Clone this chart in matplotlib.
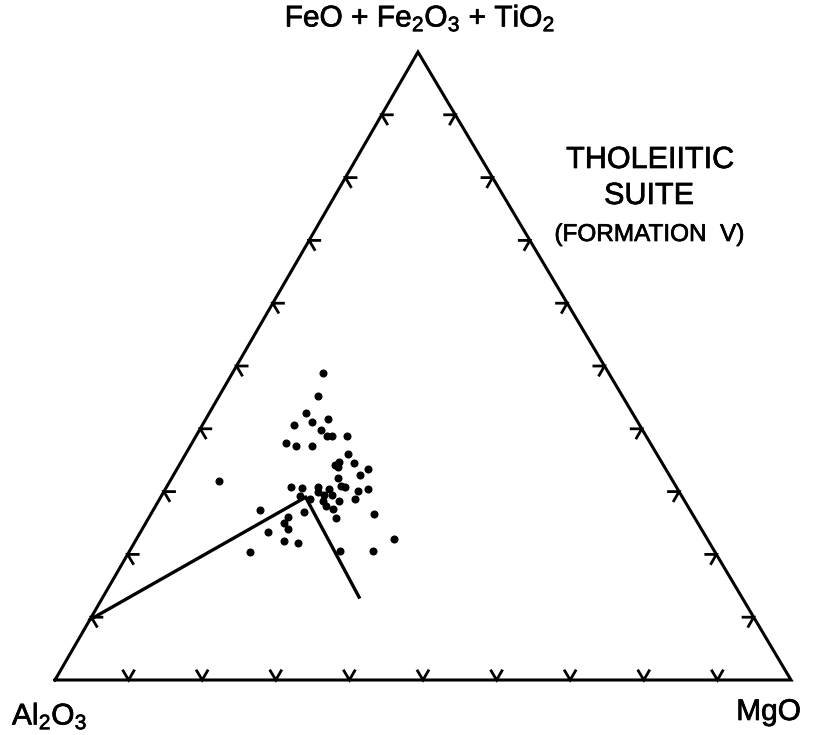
import numpy as np
import matplotlib
matplotlib.use("Agg")
import matplotlib.pyplot as plt
import matplotlib.patheffects as pe

plt.rcParams['font.family'] = ['Liberation Sans', 'DejaVu Sans']
plt.rcParams['mathtext.fontset'] = 'custom'
plt.rcParams['mathtext.rm'] = 'Liberation Sans'
plt.rcParams['mathtext.it'] = 'Liberation Sans'
plt.rcParams['mathtext.bf'] = 'Liberation Sans:bold'

# ---- data: compositions in percent (Al2O3, FeO+Fe2O3+TiO2, MgO) ----
fe_total = [48.9, 45.2, 42.5, 40.6, 41.1, 41.6, 39.8, 38.9, 38.9, 38.9,
            37.7, 37.3, 37.3, 36.0, 34.7, 34.2, 33.9, 34.6, 33.6, 32.6,
            32.2, 31.7, 30.7, 30.6, 30.7, 30.4, 30.9, 30.7, 30.4, 30.1,
            28.8, 29.9, 29.5, 29.5, 28.5, 29.3, 28.8, 28.5, 27.7, 27.2,
            26.8, 25.8, 26.4, 27.1, 26.0, 25.0, 24.0, 23.6, 22.1, 21.8,
            20.4, 22.5, 20.5, 20.5]
mgo = [12.3, 13.4, 13.1, 12.4, 14.6, 16.6, 16.5, 17.8, 18.5, 20.5,
       12.8, 14.3, 16.5, 22.1, 21.5, 21.2, 21.7, 23.5, 26.0, 25.3,
       22.6, 6.7, 16.9, 18.4, 20.6, 22.2, 23.6, 24.2, 27.5, 26.3,
       26.5, 21.0, 22.0, 23.1, 24.5, 18.8, 20.4, 22.4, 23.2, 24.3,
       20.6, 25.5, 30.3, 14.5, 18.9, 18.8, 19.8, 17.3, 20.2, 22.3,
       16.4, 34.9, 28.6, 33.1]
al2o3 = [100 - f - m for f, m in zip(fe_total, mgo)]

# trend line (Al2O3, FeO*, MgO)
trend_al = [90.4, 51.2, 52.0]
trend_fe = [9.6, 29.1, 13.2]
trend_mg = [0.0, 19.7, 34.8]

tick_fracs = [0.1, 0.2, 0.3, 0.4, 0.5, 0.6, 0.7, 0.8, 0.9]

# ---- layout (figure pixel space) ----
VL = np.array([55.0, 680.0])   # Al2O3 corner
VR = np.array([791.0, 680.0])  # MgO corner
VT = np.array([418.0, 52.0])   # FeO* corner


def tern(a, f, m):
    a = np.asarray(a, float); f = np.asarray(f, float); m = np.asarray(m, float)
    s = a + f + m
    x = (a * VL[0] + f * VT[0] + m * VR[0]) / s
    y = (a * VL[1] + f * VT[1] + m * VR[1]) / s
    return x, y


def unit(p, q):
    d = q - p
    return d / np.linalg.norm(d)


fig = plt.figure(figsize=(8.27, 7.35), dpi=100)
ax = fig.add_axes([0, 0, 1, 1])
ax.set_xlim(0, 827)
ax.set_ylim(735, 0)
ax.axis('off')

lw = 2.2
tri = np.array([VL, VR, VT, VL])
ax.plot(tri[:, 0], tri[:, 1], color='black', lw=lw, solid_joinstyle='miter')

arm = 12.0
sides = [
    (VL, VT, unit(VL, VR), unit(VT, VR)),  # left side
    (VL, VR, unit(VL, VT), unit(VR, VT)),  # bottom
    (VR, VT, unit(VR, VL), unit(VT, VL)),  # right side
]
for p0, p1, d1, d2 in sides:
    for t in tick_fracs:
        p = p0 + (p1 - p0) * t
        a1 = p + d1 * arm
        a2 = p + d2 * arm
        ax.plot([a1[0], p[0], a2[0]], [a1[1], p[1], a2[1]], color='black',
                lw=2.0, solid_joinstyle='miter', solid_capstyle='butt')

tx, ty = tern(trend_al, trend_fe, trend_mg)
ax.plot(tx, ty, color='black', lw=2.4, solid_joinstyle='miter')

px, py = tern(al2o3, fe_total, mgo)
ax.plot(px, py, 'o', color='black', ms=5.8, mew=0)

heavy = [pe.withStroke(linewidth=0.5, foreground='black')]
ax.text(420, 18, r'FeO + Fe$_2$O$_3$ + TiO$_2$', ha='center', va='center',
        fontsize=21.5, path_effects=heavy)
ax.text(12, 716, r'Al$_2$O$_3$', ha='left', va='center', fontsize=21.5, path_effects=heavy)
ax.text(801, 712, 'MgO', ha='right', va='center', fontsize=21.5, path_effects=heavy)

ax.text(650, 160, 'THOLEIITIC', ha='center', va='center', fontsize=22, path_effects=heavy)
ax.text(649, 196, 'SUITE', ha='center', va='center', fontsize=22, path_effects=heavy)
ax.text(649, 235, '(FORMATION  V)', ha='center', va='center', fontsize=17.5, path_effects=heavy)

fig.savefig('out.png', dpi=100)
